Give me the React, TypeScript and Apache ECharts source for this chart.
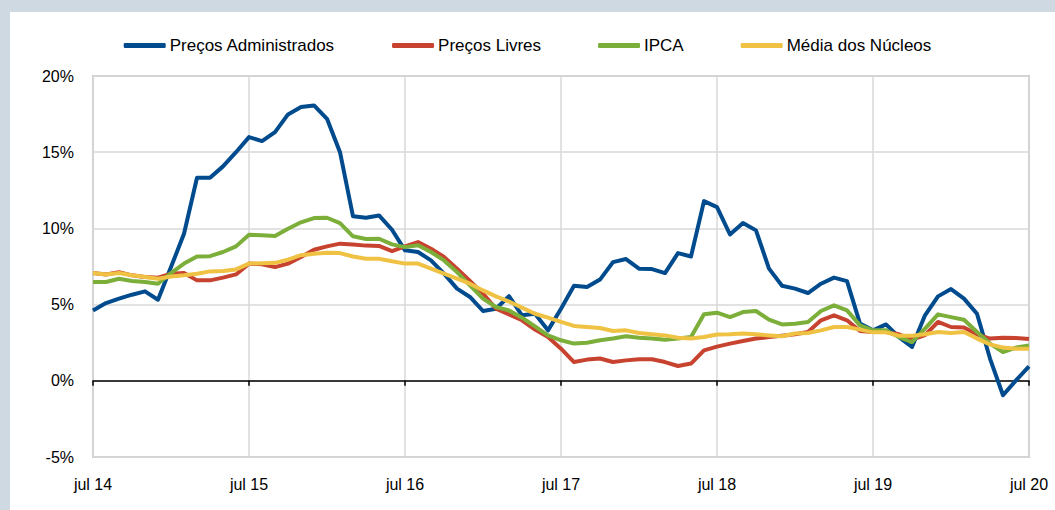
import React, { useEffect, useRef } from "react";
import * as echarts from "echarts";

const categories: string[] = [
  "jul 14", "ago 14", "set 14", "out 14", "nov 14", "dez 14",
  "jan 15", "fev 15", "mar 15", "abr 15", "mai 15", "jun 15", "jul 15", "ago 15", "set 15", "out 15", "nov 15", "dez 15",
  "jan 16", "fev 16", "mar 16", "abr 16", "mai 16", "jun 16", "jul 16", "ago 16", "set 16", "out 16", "nov 16", "dez 16",
  "jan 17", "fev 17", "mar 17", "abr 17", "mai 17", "jun 17", "jul 17", "ago 17", "set 17", "out 17", "nov 17", "dez 17",
  "jan 18", "fev 18", "mar 18", "abr 18", "mai 18", "jun 18", "jul 18", "ago 18", "set 18", "out 18", "nov 18", "dez 18",
  "jan 19", "fev 19", "mar 19", "abr 19", "mai 19", "jun 19", "jul 19", "ago 19", "set 19", "out 19", "nov 19", "dez 19",
  "jan 20", "fev 20", "mar 20", "abr 20", "mai 20", "jun 20", "jul 20",
];

const precosAdministrados: number[] = [
  4.62, 5.1, 5.39, 5.65, 5.87, 5.32, 7.46, 9.65, 13.32, 13.32, 14.07, 15.0,
  15.99, 15.73, 16.32, 17.48, 17.96, 18.07, 17.19, 15.0, 10.79, 10.7, 10.85, 9.91,
  8.56, 8.45, 7.9, 7.03, 6.05, 5.5, 4.58, 4.73, 5.56, 4.3, 4.4, 3.31,
  4.73, 6.24, 6.15, 6.64, 7.79, 7.99, 7.36, 7.33, 7.07, 8.38, 8.16, 11.79,
  11.4, 9.6, 10.35, 9.87, 7.36, 6.24, 6.05, 5.76, 6.37, 6.77, 6.54, 3.75,
  3.31, 3.7, 2.87, 2.22, 4.3, 5.54, 6.02, 5.39, 4.4, 1.46, -0.95, 0.03, 0.95,
];

const precosLivres: number[] = [
  7.07, 6.98, 7.13, 6.92, 6.81, 6.77, 7.03, 7.07, 6.59, 6.59, 6.77, 6.98,
  7.69, 7.65, 7.46, 7.69, 8.12, 8.6, 8.82, 9.0, 8.95, 8.87, 8.85, 8.51,
  8.82, 9.1, 8.67, 8.12, 7.36, 6.55, 5.72, 4.73, 4.35, 3.97, 3.36, 2.87,
  2.11, 1.23, 1.39, 1.46, 1.23, 1.34, 1.41, 1.41, 1.23, 0.97, 1.13, 2.0,
  2.24, 2.44, 2.61, 2.77, 2.87, 2.96, 3.05, 3.2, 3.97, 4.3, 3.97, 3.27,
  3.2, 3.2, 3.05, 2.7, 3.0, 3.86, 3.53, 3.5, 3.05, 2.77, 2.83, 2.81, 2.74,
];

const ipca: number[] = [
  6.48, 6.48, 6.7, 6.55, 6.48, 6.37, 7.07, 7.69, 8.16, 8.18, 8.45, 8.82,
  9.59, 9.55, 9.5, 9.98, 10.4, 10.68, 10.7, 10.35, 9.48, 9.3, 9.32, 8.95,
  8.77, 8.9, 8.45, 7.9, 7.13, 6.26, 5.39, 4.84, 4.62, 4.14, 3.57, 2.98,
  2.66, 2.44, 2.5, 2.66, 2.77, 2.92, 2.83, 2.77, 2.7, 2.77, 2.87, 4.36,
  4.47, 4.18, 4.51, 4.58, 4.01, 3.7, 3.75, 3.86, 4.58, 4.95, 4.62, 3.64,
  3.31, 3.31, 2.87, 2.54, 3.42, 4.36, 4.18, 4.01, 3.2, 2.44, 1.89, 2.18, 2.31,
];

const mediaNucleos: number[] = [
  7.07, 6.98, 7.07, 6.92, 6.81, 6.7, 6.85, 6.92, 7.03, 7.18, 7.2, 7.31,
  7.69, 7.72, 7.74, 7.95, 8.24, 8.34, 8.4, 8.38, 8.16, 8.01, 8.01, 7.84,
  7.69, 7.69, 7.36, 7.03, 6.7, 6.37, 5.93, 5.54, 5.2, 4.8, 4.4, 4.14,
  3.86, 3.6, 3.53, 3.46, 3.27, 3.31, 3.14, 3.05, 2.98, 2.83, 2.77, 2.87,
  3.04, 3.05, 3.1, 3.05, 2.98, 2.92, 3.1, 3.14, 3.31, 3.53, 3.53, 3.36,
  3.18, 3.18, 2.96, 2.95, 3.05, 3.2, 3.14, 3.2, 2.77, 2.39, 2.18, 2.11, 2.11,
];

const seriesNames = ["Preços Administrados", "Preços Livres", "IPCA", "Média dos Núcleos"];
const seriesColors = ["#004b8d", "#c8432f", "#7cae3a", "#efc243"];
const yTicks = { min: -5, max: 20, interval: 5 };

export default function App() {
  const ref = useRef<HTMLDivElement>(null);

  useEffect(() => {
    document.body.style.margin = "0";
    if (!ref.current) return;
    const chart = echarts.init(ref.current, undefined, { renderer: "svg" });
    const font = "'Liberation Sans', Arial, sans-serif";
    const dataSets = [precosAdministrados, precosLivres, ipca, mediaNucleos];

    chart.setOption({
      animation: false,
      backgroundColor: "#ffffff",
      textStyle: { fontFamily: font },
      graphic: [
        { type: "rect", left: 0, top: 0, shape: { width: 1055, height: 12 }, style: { fill: "#cfd9e1" }, silent: true },
        { type: "rect", left: 0, top: 0, shape: { width: 10, height: 510 }, style: { fill: "#cfd9e1" }, silent: true },
      ],
      legend: {
        top: 32,
        left: "center",
        itemGap: 57,
        itemWidth: 42,
        itemHeight: 5,
        icon: "roundRect",
        textStyle: { fontSize: 17, color: "#000", fontFamily: font, padding: [0, 0, 0, -1] },
        data: seriesNames,
      },
      grid: {
        left: 93,
        right: 26,
        top: 76,
        bottom: 53,
        show: true,
        borderColor: "#c6c6c6",
        borderWidth: 2,
        backgroundColor: "transparent",
      },
      xAxis: [
        {
          type: "category",
          data: categories,
          boundaryGap: false,
          position: "bottom",
          axisLine: { show: false, onZero: false },
          axisTick: { show: false },
          axisLabel: { interval: 11, margin: 19, fontSize: 16, color: "#000", fontFamily: font },
          splitLine: { show: true, interval: 11, lineStyle: { color: "#d9d9d9", width: 1.5 } },
        },
        {
          type: "category",
          data: categories,
          boundaryGap: false,
          position: "bottom",
          axisLine: { show: true, onZero: true, lineStyle: { color: "#000", width: 1.5 } },
          axisTick: { show: true, interval: 11, length: 5, inside: false, lineStyle: { color: "#000", width: 1.5 } },
          axisLabel: { show: false },
          splitLine: { show: false },
        },
      ],
      yAxis: {
        type: "value",
        min: yTicks.min,
        max: yTicks.max,
        interval: yTicks.interval,
        axisLine: { show: false },
        axisTick: { show: false },
        axisLabel: { formatter: (v: number) => `${v}%`, margin: 19, fontSize: 16, color: "#000", fontFamily: font },
        splitLine: { show: true, lineStyle: { color: "#d9d9d9", width: 1.5 } },
      },
      series: seriesNames.map((name, i) => ({
        name,
        type: "line",
        xAxisIndex: 0,
        data: dataSets[i],
        symbol: "none",
        smooth: false,
        color: seriesColors[i],
        lineStyle: { color: seriesColors[i], width: 4, join: "round" },
        z: 3 + i,
      })),
    });

    return () => chart.dispose();
  }, []);

  return <div ref={ref} style={{ width: 1055, height: 510 }} />;
}
